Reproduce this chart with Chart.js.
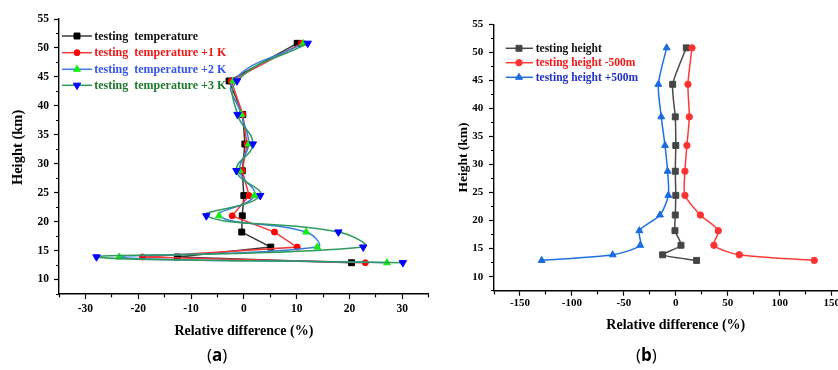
<!DOCTYPE html>
<html><head><meta charset="utf-8">
<script src="https://cdn.jsdelivr.net/npm/chart.js@4/dist/chart.umd.min.js"></script>
<style>
html,body{margin:0;padding:0;background:#fff;width:838px;height:370px;overflow:hidden;position:relative;}
#wrapA{position:absolute;left:0;top:0;width:440px;height:370px;}
#wrapB{position:absolute;left:420px;top:0;width:450px;height:370px;}
.lab{position:absolute;font-family:'Open Sans','Noto Sans',sans-serif;font-size:17px;color:#000;top:343px;line-height:24px;}
</style></head><body>
<div id="wrapA"><canvas id="cA" width="440" height="370"></canvas></div>
<div id="wrapB"><canvas id="cB" width="450" height="370"></canvas></div>
<div class="lab" style="left:207px">(<b>a</b>)</div>
<div class="lab" style="left:636px">(<b>b</b>)</div>
<script>
// ---- data ----
const heights = [50.8, 44.3, 38.5, 33.4, 28.8, 24.5, 21.0, 18.2, 15.6, 13.9, 12.9];
const tempBase    = [10.1, -2.8, -0.2, 0.2, -0.3, 0.0, -0.3, -0.4, 5.1, -12.6, 20.4];
const tempPlus1K  = [10.9, -2.4, -0.2, 0.6, -0.3, 1.0, -2.2, 5.8, 10.1, -19.2, 23.0];
const tempPlus2K  = [11.3, -2.0, -0.5, 0.9, -0.8, 2.0, -4.7, 11.8, 13.9, -23.6, 27.1];
const tempPlus3K  = [12.1, -1.3, -1.2, 1.7, -1.4, 3.1, -7.1, 17.9, 22.6, -27.9, 30.1];
const heightBase     = [10.1, -3.0, -0.5, 0.0, -0.5, 0.0, -0.5, -0.8, 5.0, -12.7, 20.0];
const heightMinus500 = [15.6, 11.7, 13.0, 10.7, 8.8, 8.8, 23.6, 40.9, 36.7, 61.1, 133.3];
const heightPlus500  = [-8.8, -16.8, -14.0, -10.4, -7.9, -7.2, -15.2, -35.1, -34.2, -60.8, -129.1];
const labelsA = ['testing  temperature', 'testing  temperature +1 K', 'testing  temperature +2 K', 'testing  temperature +3 K'];
const labelsB = ['testing height', 'testing height -500m', 'testing height +500m'];
const xTickLabelsA = [-30, -20, -10, 0, 10, 20, 30];
const xTickLabelsB = [-150, -100, -50, 0, 50, 100, 150];
const yTickLabels = [10, 15, 20, 25, 30, 35, 40, 45, 50, 55];
const xTitle = 'Relative difference (%)';
const yTitle = 'Height (km)';

// ---- helpers ----
const SERIF = "'Liberation Serif','Times New Roman',serif";
const isIn = (v, arr) => arr.some(t => Math.abs(t - v) < 1e-6);
const pts = arr => arr.map((v, i) => ({x: v, y: heights[i]}));

function ds(label, data, lineColor, ptColor, style, radius, rotation, tension, order) {
  return {label, data: pts(data), showLine: true, borderColor: lineColor, backgroundColor: ptColor,
    pointBackgroundColor: ptColor, pointBorderColor: ptColor, pointStyle: style, pointRadius: radius,
    pointRotation: rotation, pointBorderWidth: 1, borderWidth: 1.5, tension, order, clip: false,
    pointHoverRadius: radius};
}

function xScale(min, max, step, labels, fontSize, pad, titleSize, titlePadBottom, h) {
  return {type: 'linear', position: 'bottom', min, max,
    ticks: {stepSize: step, includeBounds: false, autoSkip: false, maxRotation: 0, minRotation: 0, padding: pad,
      color: '#000', font: {family: SERIF, size: fontSize, weight: 'bold'},
      callback: v => isIn(v, labels) ? String(v) : ''},
    grid: {drawOnChartArea: false, drawTicks: true, tickLength: 5, tickColor: '#000', tickWidth: 1.2,
      tickBorderDash: c => (c.tick && isIn(c.tick.value, labels)) ? [] : [3, 50]},
    border: {display: true, color: '#000', width: 1.4},
    title: {display: true, text: xTitle, color: '#000', font: {family: SERIF, size: titleSize, weight: 'bold'},
      padding: {top: 0, bottom: titlePadBottom}},
    afterFit: s => { s.height = h; }
  };
}
function yScale(fontSize, pad, titleText, titleSize, titlePadTop, w) {
  return {type: 'linear', position: 'left', min: 7.5, max: 55,
    ticks: {stepSize: 2.5, includeBounds: false, autoSkip: false, padding: pad, color: '#000',
      font: {family: SERIF, size: fontSize, weight: 'bold'},
      callback: v => isIn(v, yTickLabels) ? String(v) : ''},
    grid: {drawOnChartArea: false, drawTicks: true, tickLength: 5, tickColor: '#000', tickWidth: 1.2,
      tickBorderDash: c => (c.tick && isIn(c.tick.value, yTickLabels)) ? [] : [0, 2, 3, 50]},
    border: {display: true, color: '#000', width: 1.4},
    title: {display: true, text: titleText, color: '#000', font: {family: SERIF, size: titleSize, weight: 'bold'},
      padding: {top: titlePadTop, bottom: 0}},
    afterFit: s => { s.width = w; }
  };
}

const lineLegend = {
  id: 'lineLegend',
  afterDatasetsDraw(chart, args, o) {
    const ctx = chart.ctx; ctx.save();
    chart.data.datasets.forEach((d, i) => {
      const y = o.ys[i];
      ctx.setLineDash([]);
      ctx.strokeStyle = d.borderColor; ctx.lineWidth = 1.5;
      ctx.beginPath(); ctx.moveTo(o.x0, y); ctx.lineTo(o.x1, y); ctx.stroke();
      ctx.fillStyle = d.pointBackgroundColor; ctx.strokeStyle = d.pointBorderColor; ctx.lineWidth = 1;
      Chart.helpers.drawPoint(ctx, {pointStyle: d.pointStyle, radius: d.pointRadius, rotation: d.pointRotation, borderWidth: 1}, o.xm, y);
      ctx.fillStyle = o.colors[i]; ctx.font = o.font; ctx.textBaseline = 'middle'; ctx.textAlign = 'left';
      ctx.fillText(d.label, o.xt, y + 0.5);
    });
    ctx.restore();
  }
};

// ---- chart (a) ----
new Chart(document.getElementById('cA'), {
  type: 'scatter',
  data: {datasets: [
    ds(labelsA[0], tempBase,   '#3a3a3a', '#000000', 'rect', 4.2, 0, 0, 3),
    ds(labelsA[1], tempPlus1K, '#f23a3a', '#ff0000', 'circle', 3, 0, 0, 2),
    ds(labelsA[2], tempPlus2K, '#3a7ee0', '#11ee11', 'triangle', 4, 0, 0.45, 1),
    ds(labelsA[3], tempPlus3K, '#2f9a5e', '#0000ff', 'triangle', 4.3, 180, 0.45, 0)
  ]},
  options: {
    responsive: false, animation: false, events: [],
    layout: {padding: {left: 0, right: 11.3, top: 19, bottom: 26}},
    scales: {
      x: xScale(-35, 35, 5, xTickLabelsA, 11.5, 3, 14, 4.6, 50),
      y: yScale(11.5, 5, '     ' + yTitle, 14.5, 9.3, 59)
    },
    plugins: {legend: {display: false}, tooltip: {enabled: false},
      lineLegend: {x0: 62, x1: 92, xm: 77, xt: 94.3, ys: [36, 52.7, 69.3, 85.3],
        font: 'bold 12px ' + SERIF, colors: ['#111111', '#f01818', '#3355ee', '#1e7a2a']}}
  },
  plugins: [lineLegend]
});

// ---- chart (b) ----
new Chart(document.getElementById('cB'), {
  type: 'scatter',
  data: {datasets: [
    ds(labelsB[0], heightBase,     '#4a4a4a', '#454545', 'rect', 4.2, 0, 0.2, 2),
    ds(labelsB[1], heightMinus500, '#ff3a3a', '#ff3333', 'circle', 3.2, 0, 0.25, 1),
    ds(labelsB[2], heightPlus500,  '#2070e0', '#1a6ae0', 'triangle', 4, 0, 0.25, 0)
  ]},
  options: {
    responsive: false, animation: false, events: [],
    layout: {padding: {left: 0, right: 12.4, top: 24.3, bottom: 29.3}},
    scales: {
      x: xScale(-175, 175, 25, xTickLabelsB, 11, 1, 14, 7.3, 50),
      y: yScale(11, 5.7, yTitle, 13.5, 35.9, 74)
    },
    plugins: {legend: {display: false}, tooltip: {enabled: false},
      lineLegend: {x0: 85.7, x1: 113, xm: 99, xt: 115.7, ys: [48.3, 62.7, 77.3],
        font: 'bold 11.5px ' + SERIF, colors: ['#111111', '#f01818', '#2030c8']}}
  },
  plugins: [lineLegend]
});
</script>
</body></html>
